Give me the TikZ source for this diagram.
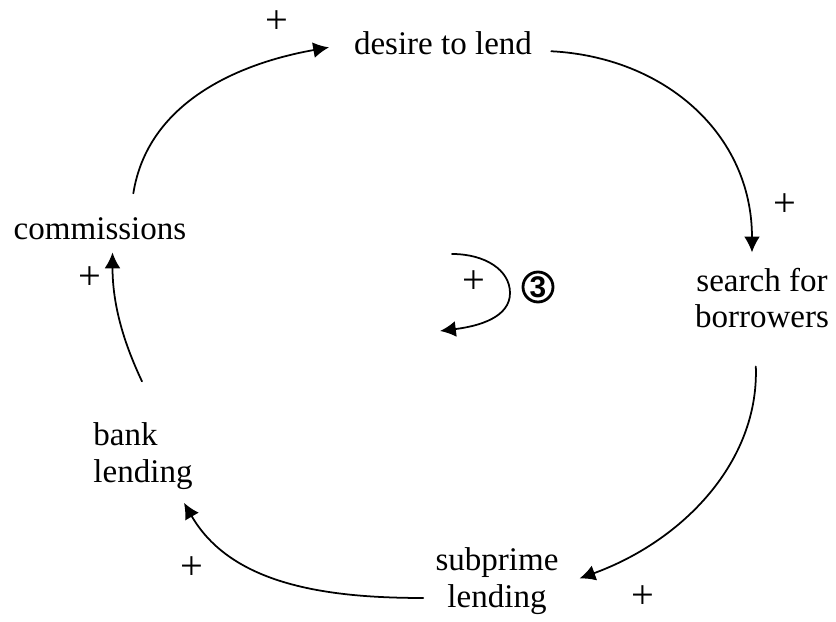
\documentclass[tikz,border=0pt]{standalone}
\usepackage{fontspec}
\setmainfont{Liberation Serif}
\setsansfont{Liberation Sans}
\usetikzlibrary{arrows.meta}
\begin{document}
\begin{tikzpicture}[x=0.02cm,y=0.02cm,line cap=round,line join=round,
  >={Latex[length=9pt,width=9pt]},
  lbl/.style={inner sep=0pt,font=\fontsize{18.8}{21}\selectfont},
  sgn/.style={inner sep=0pt,font=\fontsize{23}{23}\selectfont},
  arr/.style={->,line width=1pt}]
  \useasboundingbox (0,0) rectangle (836,622);

  % variables
  \node[lbl] (desire) at (443,579) {desire to lend};
  \node[lbl,align=center] (search) at (762,324) {search for\\borrowers};
  \node[lbl,align=center] (sub) at (497,41) {subprime\\lending};
  \node[lbl,align=left] (bank) at (143,166) {bank\\lending};
  \node[lbl] (comm) at (100,393) {commissions};

  % links
  \draw[arr,shorten <=0.49cm,shorten >=0.5cm]
    ([xshift=0.59cm]comm.north) to[out=81,in=190,looseness=1.05] (desire.west);
  \draw[arr,shorten <=0.38cm,shorten >=0.3cm]
    (desire.mid east) to[out=-3,in=90,looseness=1.1] ([xshift=-0.2cm]search.north);
  \draw[arr,shorten <=0.76cm,shorten >=0.44cm]
    ([xshift=-0.15cm]search.south) to[out=-88,in=20,looseness=1.05] ([yshift=-0.1cm]sub.east);
  \draw[arr,shorten <=0.24cm,shorten >=0.3cm]
    ([yshift=-0.34cm]sub.west) to[out=180,in=-60] ([xshift=0.67cm]bank.south);
  \draw[arr,shorten <=0.9cm,shorten >=0.24cm]
    ([xshift=0.36cm]bank.north) to[out=115,in=-90] ([xshift=0.25cm]comm.south);

  % polarities
  \node[sgn] (s1) at (277,600) {+};
  \node[sgn] (s2) at (785,417) {+};
  \node[sgn] (s3) at (643,25) {+};
  \node[sgn] (s4) at (192,54) {+};
  \node[sgn] (s5) at (90,344) {+};

  % loop marker
  \draw[arr] (452,368) .. controls (485,368) and (510,352) .. (510,329)
    .. controls (510,305) and (480,296) .. (440,291);
  \node[sgn] (s0) at (474,340) {+};
  \node[circle,draw,line width=1.6pt,minimum size=0.6cm,inner sep=0pt,
    font=\sffamily\bfseries\fontsize{17}{17}\selectfont] (loop) at (538,335) {3};
\end{tikzpicture}
\end{document}
